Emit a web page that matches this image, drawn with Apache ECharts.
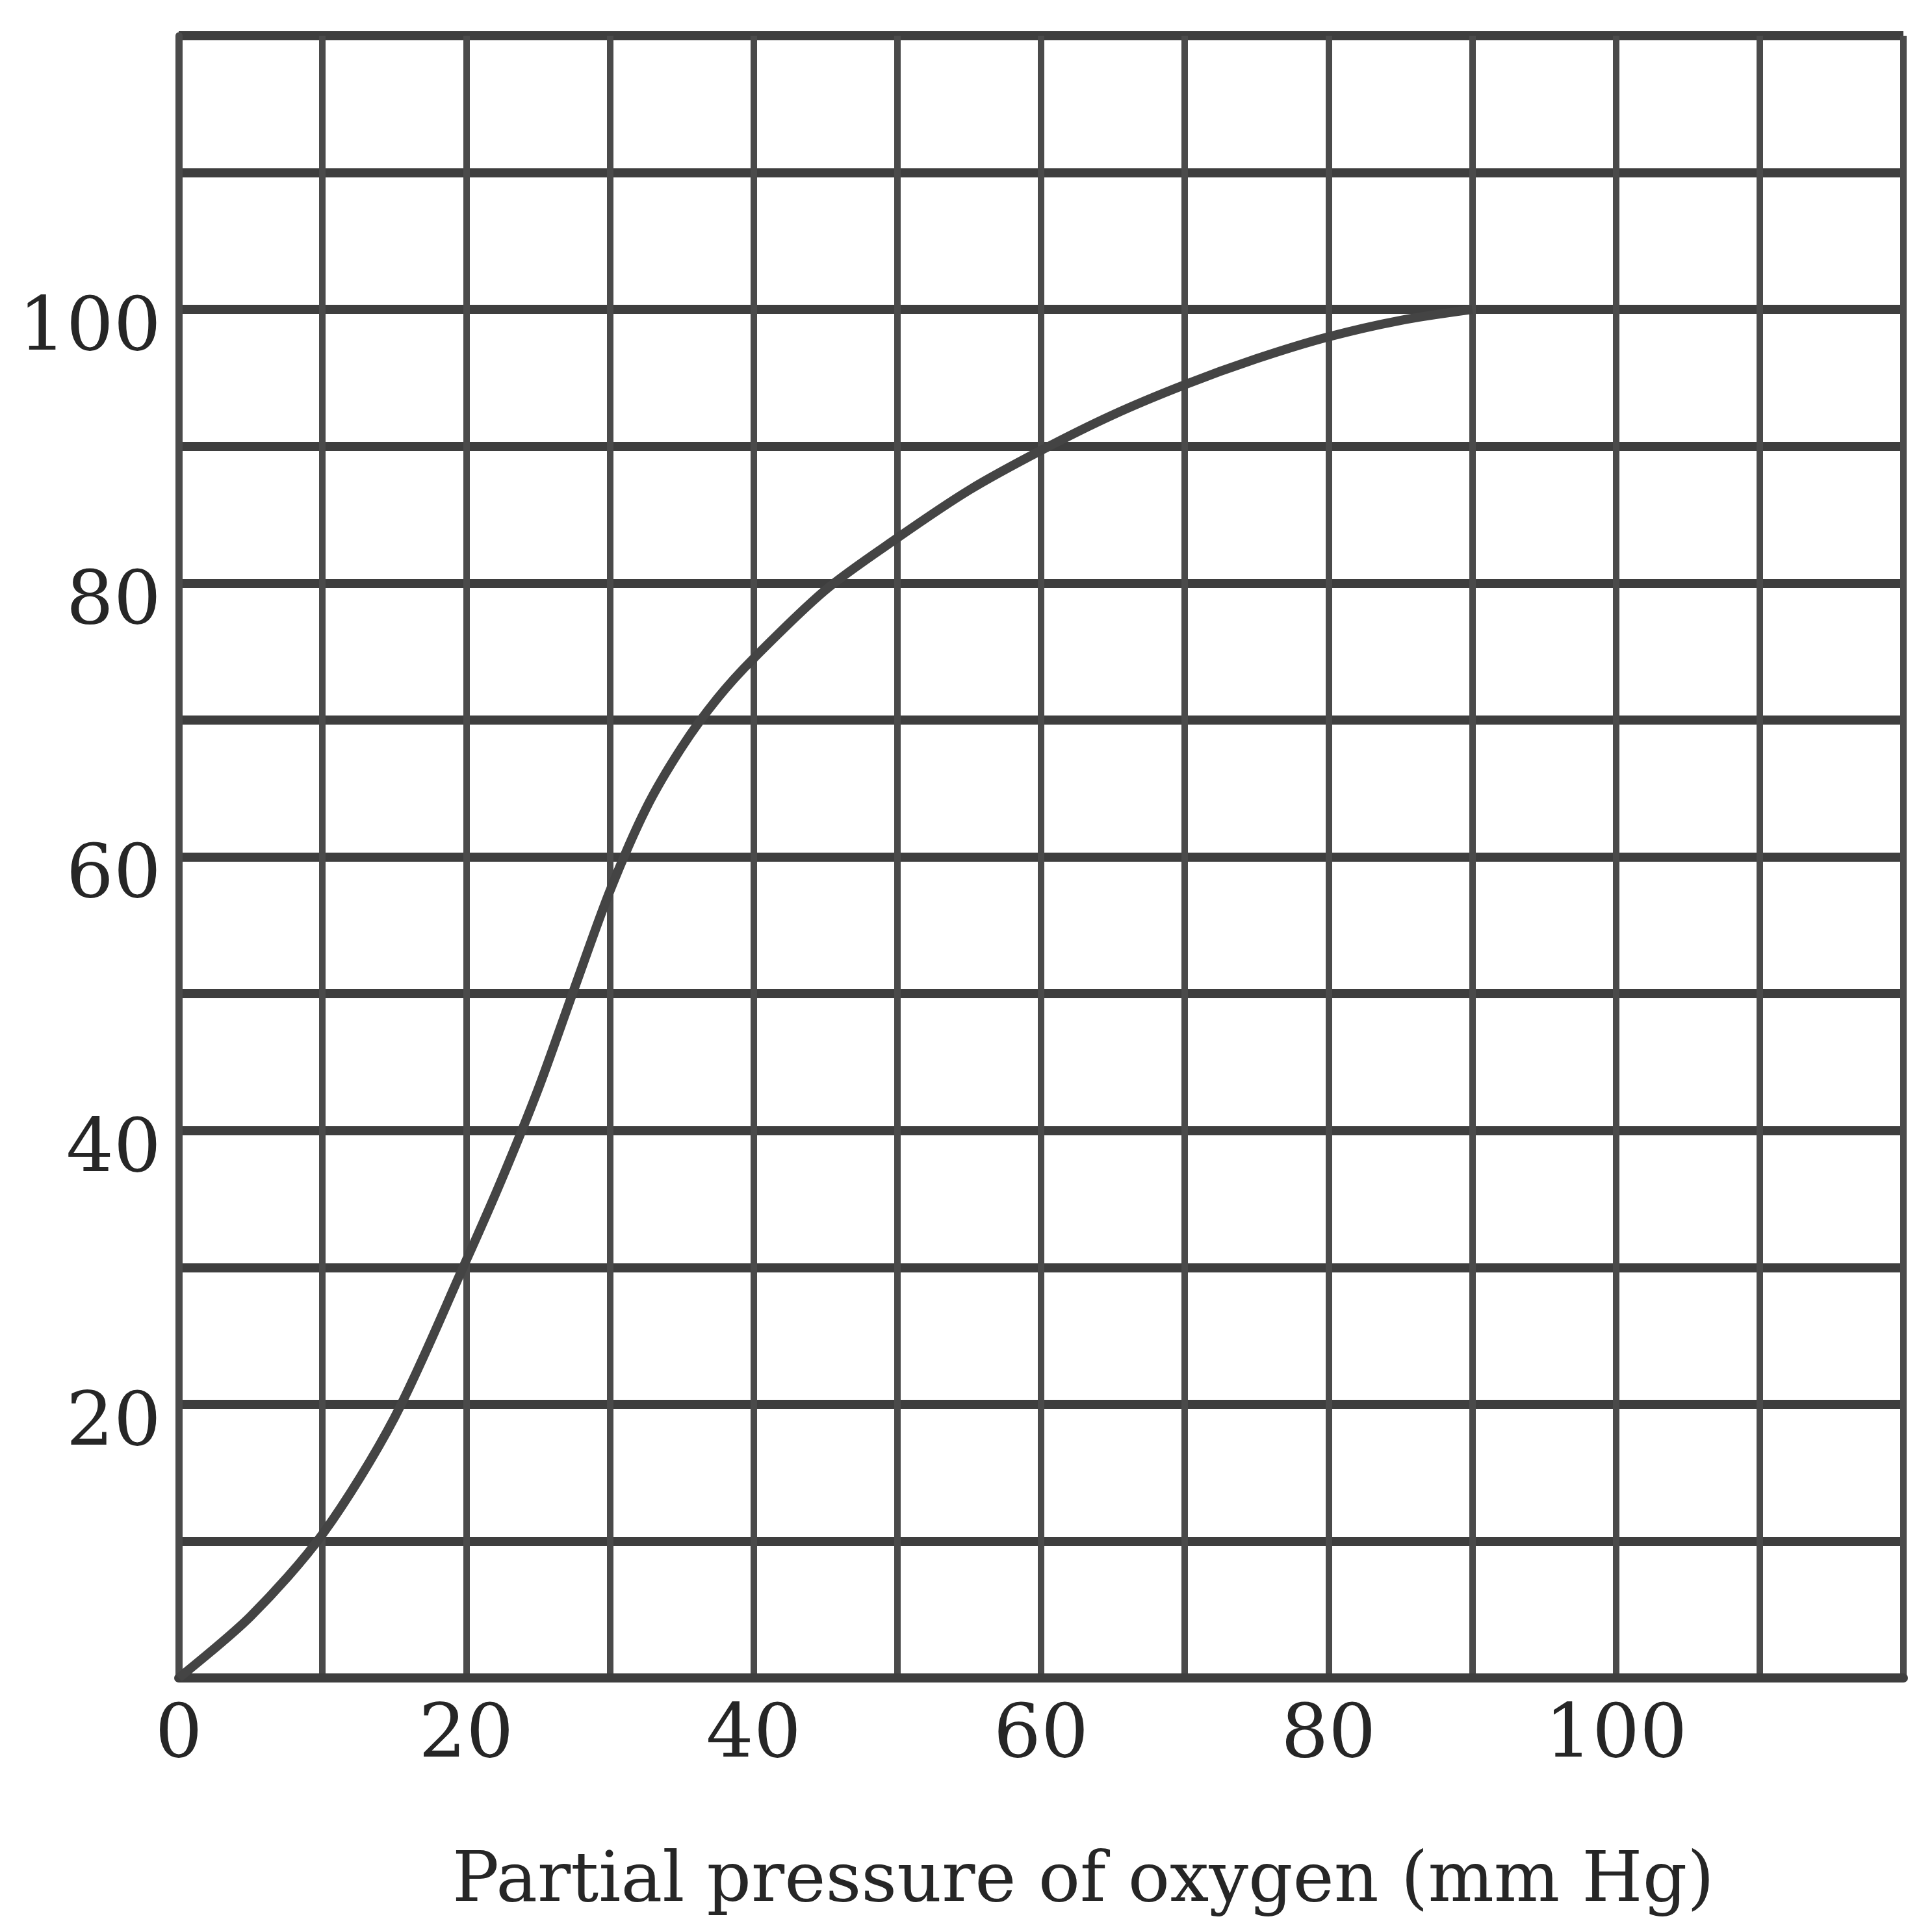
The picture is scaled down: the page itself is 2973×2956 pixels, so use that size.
<!DOCTYPE html>
<html>
<head>
<meta charset="utf-8">
<script src="https://cdn.jsdelivr.net/npm/echarts@6/dist/echarts.min.js"></script>
<style>
html,body{margin:0;padding:0;background:#fff;}
#chart{width:2973px;height:2956px;}
</style>
</head>
<body>
<div id="chart"></div>
<script>
// Oxygen dissociation curve values
const pressure = [0, 5, 10, 15, 20, 22.5, 25, 27.5, 30, 32.5, 35, 37.5, 40, 45, 50, 55, 60, 65, 70, 75, 80, 85, 90];
const saturation = [0, 4.5, 10.5, 19, 30.5, 36.5, 43, 50.3, 57.5, 63.5, 68, 71.6, 74.5, 79.5, 83.3, 86.8, 89.7, 92.3, 94.5, 96.4, 98, 99.2, 100];
const xTickLabels = [0, 20, 40, 60, 80, 100];
const yTickLabels = [20, 40, 60, 80, 100];
const xTitle = 'Partial pressure of oxygen (mm Hg)';

const chart = echarts.init(document.getElementById('chart'));
const hColor = '#3e3e3e';
const vColor = '#4a4a4a';
chart.setOption({
  backgroundColor: '#ffffff',
  animation: false,
  grid: {left: 275, right: 44, top: 55, bottom: 373, containLabel: false},
  xAxis: {
    type: 'value', min: 0, max: 120, interval: 10,
    axisLine: {show: true, lineStyle: {color: hColor, width: 14}},
    axisTick: {show: false},
    splitLine: {show: true, lineStyle: {color: vColor, width: 10}},
    axisLabel: {
      margin: 34,
      fontFamily: 'DejaVu Serif', fontSize: 115, color: '#262626',
      formatter: v => xTickLabels.includes(v) ? String(v) : ''
    },
    name: xTitle, nameLocation: 'middle', nameGap: 262,
    nameTextStyle: {fontFamily: 'DejaVu Serif', fontSize: 107, color: '#262626', padding: [0, 0, 0, 130]}
  },
  yAxis: {
    type: 'value', min: 0, max: 120, interval: 10,
    axisLine: {show: true, lineStyle: {color: vColor, width: 11}},
    axisTick: {show: false},
    splitLine: {show: true, lineStyle: {color: hColor, width: 14}},
    axisLabel: {
      margin: 27,
      fontFamily: 'DejaVu Serif', fontSize: 115, color: '#262626',
      verticalAlign: 'top', lineHeight: 64,
      formatter: v => yTickLabels.includes(v) ? String(v) : ''
    }
  },
  series: [{
    type: 'line',
    data: pressure.map((p, i) => [p, saturation[i]]),
    smooth: 0.3,
    showSymbol: false,
    lineStyle: {color: '#444444', width: 14},
    z: 5
  }]
});
</script>
</body>
</html>
